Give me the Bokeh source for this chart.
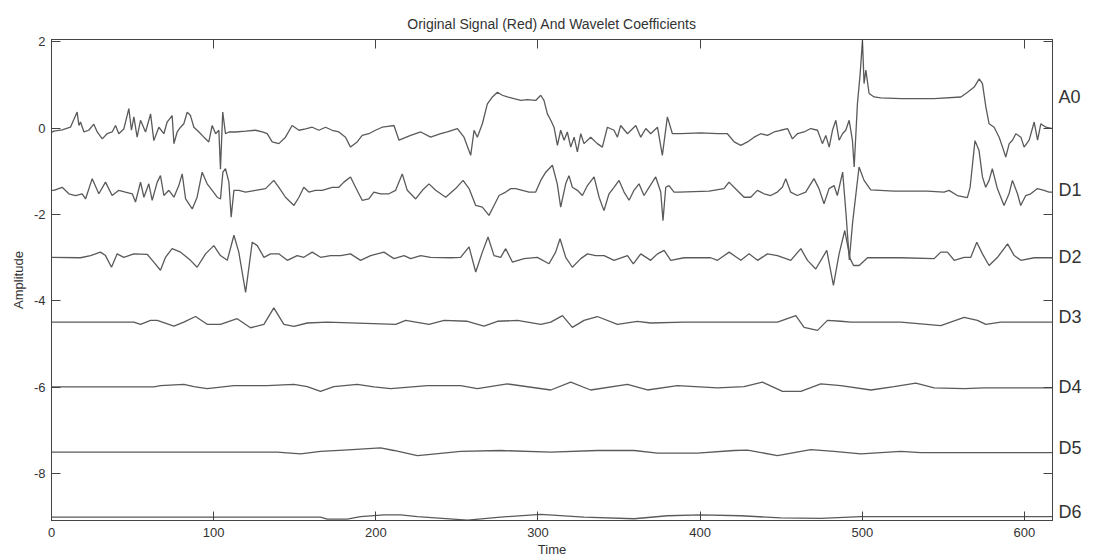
from bokeh.plotting import figure
from bokeh.models import LinearAxis, FixedTicker, Range1d
from bokeh.embed import file_html
from bokeh.resources import INLINE

title_text = "Original Signal (Red) And Wavelet Coefficients"
x_label = "Time"
y_label = "Amplitude"
x_ticks = [0, 100, 200, 300, 400, 500, 600]
y_ticks = [-8, -6, -4, -2, 0, 2]
series_names = ["A0", "D1", "D2", "D3", "D4", "D5", "D6"]
series_label_y = [0.72, -1.43, -2.99, -4.37, -6.0, -7.41, -8.89]

# (time, value) readings for each trace
a0_points = [
    (0, -0.10), (1.4, -0.07), (6.6, -0.04), (11.7, 0.02), (15.8, 0.37), (16.9, 0.06), (17.9, 0.14),
    (20.0, -0.09), (23.0, -0.05), (26.1, 0.09), (28.2, -0.09), (31.3, -0.25), (34.3, -0.13),
    (37.4, -0.09), (39.5, 0.06), (41.5, -0.13), (44.6, -0.02), (47.7, 0.45), (49.3, -0.05),
    (50.8, 0.26), (52.8, -0.21), (54.9, 0.18), (58.0, -0.09), (61.1, 0.33), (63.1, -0.29),
    (66.2, 0.02), (69.3, -0.13), (71.3, 0.14), (74.4, 0.29), (75.5, -0.36), (77.5, -0.09),
    (79.6, 0.02), (81.6, 0.10), (83.7, 0.37), (85.7, 0.29), (87.8, 0.02), (90.9, -0.09),
    (94.0, -0.21), (97.0, -0.32), (99.1, 0.06), (101.2, -0.13), (103.2, -0.05), (104.2, -0.95),
    (105.6, 0.37), (107.3, -0.13), (109.4, -0.09), (113.5, -0.09), (119.7, -0.07), (125.8, -0.05),
    (130.0, -0.09), (133.0, -0.13), (136.1, -0.32), (140.2, -0.36), (144.3, -0.21), (148.4, 0.06),
    (152.6, -0.05), (156.7, -0.02), (160.8, 0.02), (164.9, -0.05), (169.0, 0.02), (173.1, -0.05),
    (177.2, -0.09), (181.3, -0.21), (184.4, -0.44), (188.5, -0.32), (191.6, -0.17), (195.7, -0.13),
    (199.8, -0.05), (203.9, 0.02), (207.5, 0.04), (211.2, 0.06), (214.3, -0.28), (221.5, -0.17),
    (227.7, -0.09), (233.8, -0.21), (240.0, -0.13), (244.1, -0.09), (250.3, -0.01), (254.4, -0.21),
    (258.5, -0.63), (260.6, -0.05), (262.6, -0.21), (265.7, 0.10), (268.8, 0.56), (271.9, 0.72),
    (275.0, 0.83), (278.0, 0.76), (281.1, 0.72), (285.2, 0.68), (289.4, 0.64), (293.5, 0.66),
    (298.6, 0.64), (301.7, 0.76), (303.7, 0.64), (305.8, 0.33), (307.9, 0.18), (309.9, 0.02),
    (312.0, -0.40), (314.0, -0.05), (316.1, -0.28), (318.1, -0.09), (320.2, -0.44), (322.3, -0.21),
    (324.3, -0.55), (326.4, -0.13), (328.4, -0.36), (332.5, -0.21), (336.6, -0.36), (339.7, -0.44),
    (342.8, 0.02), (346.9, -0.05), (349.0, -0.21), (351.0, 0.06), (355.2, -0.13), (360.3, 0.06),
    (363.4, -0.21), (366.5, -0.01), (369.5, -0.13), (373.7, 0.02), (376.7, -0.63), (379.8, 0.26),
    (382.9, -0.13), (388.1, -0.13), (400.4, -0.11), (410.7, -0.13), (416.8, -0.13), (421.0, -0.32),
    (425.1, -0.40), (429.2, -0.32), (433.3, -0.21), (437.4, -0.13), (441.5, -0.17), (445.6, -0.09),
    (449.7, -0.05), (453.9, -0.01), (456.9, -0.25), (460.0, -0.13), (464.1, -0.09), (468.2, -0.01),
    (472.4, -0.05), (475.4, -0.36), (477.5, -0.17), (479.6, -0.44), (481.6, -0.05), (483.7, 0.18),
    (485.7, -0.28), (487.8, -0.13), (489.8, -0.05), (491.9, 0.18), (493.9, -0.28), (495.0, -0.90),
    (497.0, 0.56), (498.7, 1.26), (500.1, 2.03), (501.1, 1.03), (502.2, 1.34), (504.2, 0.80),
    (507.3, 0.72), (511.4, 0.70), (523.8, 0.68), (544.3, 0.68), (560.8, 0.72), (564.9, 0.83),
    (569.0, 0.95), (572.1, 1.14), (574.1, 1.03), (576.2, 0.49), (578.2, 0.10), (581.3, 0.02),
    (584.4, -0.21), (586.5, -0.44), (588.5, -0.67), (590.6, -0.36), (592.6, -0.28), (594.7, -0.13),
    (597.8, -0.21), (599.8, -0.44), (602.9, -0.28), (606.0, 0.14), (608.1, -0.28), (610.1, 0.10),
    (613.2, 0.02), (617.3, -0.01),
]

d1_points = [
    (0, -1.44), (1.4, -1.44), (6.6, -1.37), (10.7, -1.52), (14.8, -1.56), (18.9, -1.52), (21.0, -1.64),
    (25.1, -1.17), (29.2, -1.52), (33.3, -1.25), (37.4, -1.56), (41.5, -1.44), (45.6, -1.48),
    (49.8, -1.52), (51.8, -1.71), (54.9, -1.25), (57.0, -1.60), (60.0, -1.29), (62.1, -1.67),
    (65.2, -1.25), (67.2, -1.10), (69.3, -1.56), (72.4, -1.44), (75.5, -1.60), (78.5, -1.33),
    (80.6, -1.06), (82.7, -1.64), (86.8, -1.87), (89.8, -1.60), (92.9, -1.02), (96.0, -1.29),
    (99.1, -1.44), (102.2, -1.60), (104.2, -1.64), (105.7, -1.02), (107.3, -0.94), (109.4, -1.25),
    (110.8, -2.06), (112.5, -1.44), (115.6, -1.44), (119.7, -1.48), (125.8, -1.44), (132.0, -1.40),
    (137.1, -1.21), (140.2, -1.37), (144.3, -1.60), (149.5, -1.79), (152.6, -1.60), (155.6, -1.37),
    (158.7, -1.48), (162.8, -1.44), (166.9, -1.44), (173.1, -1.37), (177.2, -1.37), (180.3, -1.25),
    (184.4, -1.13), (187.5, -1.37), (191.6, -1.67), (195.7, -1.64), (198.8, -1.48), (202.9, -1.52),
    (208.1, -1.52), (212.2, -1.44), (216.3, -1.06), (219.4, -1.44), (224.6, -1.64), (228.7, -1.44),
    (232.8, -1.29), (236.9, -1.44), (243.1, -1.60), (249.2, -1.40), (253.8, -1.21), (257.5, -1.40),
    (261.6, -1.79), (265.7, -1.83), (269.8, -2.02), (272.9, -1.79), (276.0, -1.56), (280.1, -1.48),
    (283.2, -1.40), (286.3, -1.40), (290.4, -1.44), (294.5, -1.48), (298.6, -1.48), (301.7, -1.21),
    (304.8, -1.02), (308.9, -0.86), (311.9, -1.29), (314.0, -1.83), (317.1, -1.29), (319.1, -1.10),
    (321.2, -1.37), (324.3, -1.44), (327.4, -1.56), (330.5, -1.33), (334.6, -1.13), (337.7, -1.60),
    (340.7, -1.91), (343.8, -1.52), (346.9, -1.37), (350.0, -1.21), (353.1, -1.48), (356.2, -1.67),
    (359.2, -1.44), (362.3, -1.29), (365.4, -1.56), (368.5, -1.37), (372.6, -1.13), (375.7, -1.48),
    (377.1, -2.14), (378.8, -1.37), (380.8, -1.33), (383.9, -1.48), (387.0, -1.48), (405.5, -1.46),
    (414.7, -1.40), (417.8, -1.25), (420.9, -1.37), (427.1, -1.60), (431.2, -1.60), (435.3, -1.44),
    (439.4, -1.52), (443.5, -1.56), (447.6, -1.48), (450.7, -1.37), (452.8, -1.17), (455.8, -1.48),
    (459.9, -1.56), (465.1, -1.48), (470.2, -1.17), (473.3, -1.40), (476.4, -1.75), (479.5, -1.40),
    (482.6, -1.33), (484.6, -1.56), (487.9, -1.02), (490.0, -2.00), (492.0, -3.05), (494.0, -2.20),
    (498.0, -0.90), (501.1, -1.21), (505.2, -1.43), (519.6, -1.46), (540.1, -1.46), (550.4, -1.48),
    (553.5, -1.44), (558.6, -1.56), (564.8, -1.61), (566.5, -1.37), (569.5, -0.29), (572.0, -0.52),
    (574.1, -1.13), (576.1, -1.37), (578.2, -1.21), (580.2, -0.94), (583.3, -1.40), (587.4, -1.79),
    (590.5, -1.52), (592.6, -1.21), (595.7, -1.52), (597.7, -1.79), (600.8, -1.56), (603.9, -1.52),
    (608.0, -1.40), (612.1, -1.44), (615.2, -1.48), (617.3, -1.48),
]

d2_points = [
    (0, -2.99), (17.9, -3.00), (24.1, -2.95), (30.2, -2.87), (33.3, -2.95), (37.0, -3.22), (40.5, -2.91),
    (44.6, -2.99), (50.8, -2.91), (59.0, -2.92), (63.1, -3.10), (67.2, -3.29), (70.3, -2.99),
    (74.4, -2.79), (79.6, -2.87), (85.7, -3.06), (89.8, -3.22), (95.0, -2.91), (100.1, -2.72),
    (104.2, -2.95), (108.4, -3.06), (112.5, -2.48), (115.5, -2.87), (119.7, -3.80), (123.8, -2.64),
    (126.9, -2.72), (131.0, -2.99), (135.1, -2.91), (140.2, -2.91), (145.4, -3.06), (151.5, -2.95),
    (155.6, -2.99), (160.8, -2.87), (165.9, -2.99), (172.1, -2.95), (178.3, -2.95), (184.4, -2.91),
    (190.6, -3.06), (196.8, -2.95), (205.0, -2.87), (211.2, -3.02), (217.4, -2.95), (221.5, -3.02),
    (227.7, -2.95), (233.8, -2.99), (246.2, -3.00), (252.3, -2.99), (257.5, -2.75), (261.6, -3.33),
    (265.7, -2.87), (269.2, -2.52), (272.9, -2.95), (277.0, -2.99), (280.1, -2.79), (284.2, -3.10),
    (291.4, -3.02), (299.6, -2.99), (306.8, -3.14), (310.9, -2.87), (313.6, -2.56), (317.1, -2.99),
    (321.2, -3.22), (326.4, -3.02), (330.5, -2.91), (335.6, -2.95), (340.8, -2.95), (346.9, -3.06),
    (352.1, -2.99), (355.2, -2.95), (358.8, -3.14), (363.4, -2.91), (369.5, -3.06), (373.7, -2.91),
    (377.8, -2.83), (381.9, -3.06), (390.1, -3.00), (406.5, -3.00), (410.7, -3.06), (417.9, -2.87),
    (425.1, -3.06), (430.2, -2.91), (435.4, -3.06), (441.5, -2.91), (447.7, -2.95), (455.9, -3.06),
    (462.1, -2.79), (466.2, -3.06), (471.3, -3.26), (478.1, -2.83), (482.2, -3.64), (485.7, -2.91),
    (489.2, -2.37), (492.5, -3.02), (494.6, -3.18), (498.1, -3.18), (503.2, -3.00), (523.8, -3.00),
    (544.3, -3.02), (548.4, -2.87), (552.5, -2.87), (556.7, -3.06), (562.8, -2.99), (566.9, -2.99),
    (570.6, -2.64), (574.1, -2.91), (578.2, -3.18), (583.4, -2.99), (589.6, -2.68), (593.7, -2.95),
    (597.8, -3.06), (606.0, -3.00), (617.3, -3.00),
]

d3_points = [
    (0, -4.49), (50.8, -4.49), (54.9, -4.54), (61.1, -4.45), (65.2, -4.45), (75.5, -4.58), (81.6, -4.49),
    (88.8, -4.36), (96.0, -4.54), (104.2, -4.54), (114.5, -4.41), (122.7, -4.62), (131.0, -4.54),
    (137.1, -4.16), (143.3, -4.54), (149.5, -4.59), (157.7, -4.51), (170.0, -4.49), (212.3, -4.54),
    (218.4, -4.45), (232.8, -4.54), (242.1, -4.45), (256.5, -4.47), (266.7, -4.58), (275.0, -4.47),
    (287.3, -4.45), (301.7, -4.54), (307.9, -4.49), (315.1, -4.34), (321.2, -4.61), (328.4, -4.45),
    (336.6, -4.36), (349.0, -4.54), (361.3, -4.47), (369.5, -4.51), (390.1, -4.49), (447.7, -4.49),
    (459.0, -4.34), (464.1, -4.61), (472.4, -4.68), (478.5, -4.45), (486.8, -4.47), (492.9, -4.49),
    (523.8, -4.49), (548.4, -4.57), (562.8, -4.38), (571.0, -4.45), (576.2, -4.54), (585.4, -4.49),
    (617.3, -4.49),
]

d4_points = [
    (0, -5.99), (63.1, -5.99), (67.2, -5.96), (81.6, -5.93), (87.8, -5.98), (96.0, -6.03), (112.5, -5.96),
    (133.0, -5.96), (149.5, -5.93), (157.7, -5.98), (165.9, -6.09), (174.1, -5.98), (188.5, -5.93),
    (198.8, -5.99), (209.2, -6.03), (231.8, -5.96), (252.3, -5.96), (262.6, -6.03), (281.1, -5.92),
    (307.9, -6.06), (320.2, -5.88), (332.5, -6.06), (355.2, -5.93), (367.5, -6.06), (386.0, -5.96),
    (410.7, -6.01), (427.1, -5.98), (438.4, -5.88), (450.8, -6.09), (462.1, -6.09), (474.4, -5.92),
    (486.8, -5.96), (505.3, -6.06), (519.6, -5.98), (533.0, -5.90), (544.3, -6.01), (562.8, -6.03),
    (575.2, -6.01), (617.3, -6.01),
]

d5_points = [
    (0, -7.50), (139.2, -7.50), (153.6, -7.54), (165.9, -7.48), (180.3, -7.45), (202.9, -7.40),
    (211.2, -7.46), (225.6, -7.58), (233.8, -7.55), (252.3, -7.48), (277.0, -7.46), (307.9, -7.50),
    (336.6, -7.46), (359.3, -7.46), (373.7, -7.52), (398.3, -7.52), (420.9, -7.46), (429.2, -7.45),
    (447.7, -7.58), (468.2, -7.44), (482.6, -7.48), (499.1, -7.54), (523.8, -7.48), (536.1, -7.51),
    (617.3, -7.51),
]

d6_points = [
    (0, -9.00), (165.9, -9.00), (170.0, -9.05), (182.4, -9.05), (190.6, -8.99), (205.1, -8.95),
    (215.3, -8.95), (225.6, -8.99), (256.5, -9.07), (277.0, -9.00), (301.7, -8.94), (328.4, -9.00),
    (359.3, -9.04), (379.8, -8.97), (400.4, -8.95), (425.1, -8.97), (449.7, -9.02), (474.4, -9.03),
    (499.1, -8.99), (616.3, -8.99), (617.3, -8.99),
]

all_series = [a0_points, d1_points, d2_points, d3_points, d4_points, d5_points, d6_points]

FONT = "Liberation Sans"
TEXT = "#333333"
FRAME = "#444444"
LINE = "#5a5a5a"

p = figure(
    width=1093, height=559,
    x_range=Range1d(0, 617.3), y_range=Range1d(-9.08, 2.05),
    output_backend="svg", toolbar_location=None,
    min_border_left=51, min_border_right=41, min_border_top=39, min_border_bottom=39,
    title=title_text,
)
p.background_fill_color = "white"
p.border_fill_color = "white"
p.outline_line_color = FRAME
p.outline_line_width = 1
p.grid.visible = False

p.title.align = "center"
p.title.text_font = FONT
p.title.text_font_size = "14px"
p.title.text_font_style = "normal"
p.title.text_color = TEXT
p.title.standoff = 15

for pts in all_series:
    ts = [a for a, b in pts]
    vs = [b for a, b in pts]
    p.line(ts, vs, line_color=LINE, line_width=1.3)

def style_axis(ax, size="13px"):
    ax.major_tick_in = 9
    ax.major_tick_out = 0
    ax.minor_tick_line_color = None
    ax.major_tick_line_color = FRAME
    ax.axis_line_color = FRAME
    ax.major_label_text_font = FONT
    ax.major_label_text_font_size = size
    ax.major_label_text_color = TEXT
    ax.axis_label_text_font = FONT
    ax.axis_label_text_font_size = "13px"
    ax.axis_label_text_font_style = "normal"
    ax.axis_label_text_color = TEXT

xa = p.xaxis[0]
xa.ticker = FixedTicker(ticks=x_ticks)
style_axis(xa)
xa.axis_label = x_label
xa.major_label_standoff = 7
xa.axis_label_standoff = 2

ya = p.yaxis[0]
ya.ticker = FixedTicker(ticks=y_ticks)
style_axis(ya)
ya.axis_label = y_label
ya.major_label_standoff = 6
ya.axis_label_standoff = 5
ya.major_label_overrides = {float(v): str(v) for v in y_ticks}

# top edge: tick marks only (drawn as minor ticks, so no labels exist)
top = LinearAxis(ticker=FixedTicker(ticks=[], minor_ticks=x_ticks))
style_axis(top)
top.minor_tick_in = 9
top.minor_tick_out = 0
top.minor_tick_line_color = FRAME
top.major_label_standoff = 0
p.add_layout(top, "above")

# right edge: tick marks (minor) plus the series names (major labels)
right = LinearAxis(ticker=FixedTicker(ticks=series_label_y, minor_ticks=y_ticks))
style_axis(right, "18px")
right.major_tick_in = 0
right.major_tick_out = 0
right.minor_tick_in = 9
right.minor_tick_out = 0
right.minor_tick_line_color = FRAME
right.major_label_standoff = 6
right.major_label_overrides = {float(y): n for y, n in zip(series_label_y, series_names)}
p.add_layout(right, "right")

open("out.html", "w").write(file_html(p, INLINE))
